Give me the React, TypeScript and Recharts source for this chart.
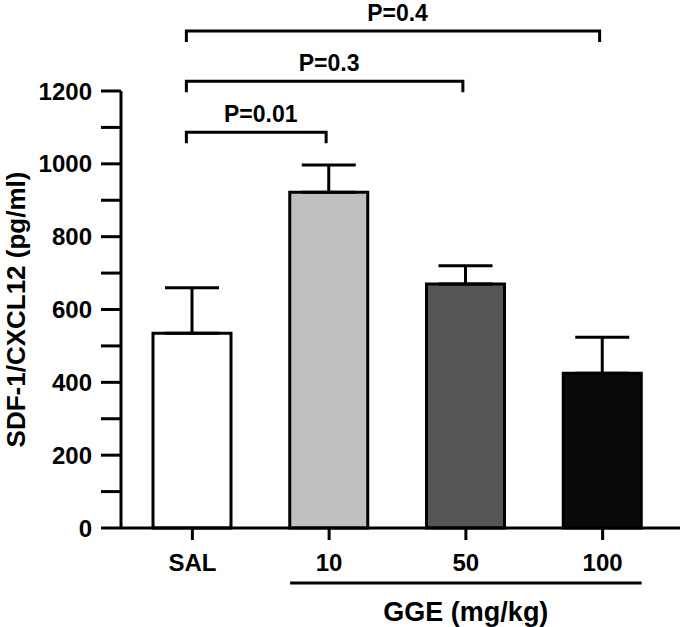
import React from 'react';
import { Bar, BarChart, Cell, ErrorBar, Label, ReferenceLine, XAxis, YAxis } from 'recharts';

const categories = ['SAL', '10', '50', '100'];
const means = [535, 922, 670, 425];
const sems = [125, 75, 50, 99];
const fills = ['#ffffff', '#c0c0c0', '#555555', '#0a0a0a'];
const yTicks = [0, 100, 200, 300, 400, 500, 600, 700, 800, 900, 1000, 1100, 1200];

// significance brackets, level is in y units (pg/ml)
const brackets = [
  { from: 'SAL', to: '10', level: 1087, label: 'P=0.01' },
  { from: 'SAL', to: '50', level: 1227, label: 'P=0.3' },
  { from: 'SAL', to: '100', level: 1365, label: 'P=0.4' },
];
const doseGroup = { from: '10', to: '100', level: -151, label: 'GGE (mg/kg)' };

const FONT = '"Liberation Sans", Arial, Helvetica, sans-serif';
const BAR_SIZE = 78;
const INK = '#000';

const data = categories.map((name, i) => ({ name, value: means[i], err: [0, sems[i]] }));

const tickStyle = { fill: INK, fontSize: 24, fontWeight: 700, fontFamily: FONT };

function bracketShape(props: any) {
  const { x1, y1, x2, y2 } = props;
  const drop = 11;
  return (
    <path
      d={`M${x1 - 6},${y1 + drop}V${y1}H${x2 - 3}V${y2 + drop}`}
      fill="none"
      stroke={INK}
      strokeWidth={3}
    />
  );
}

function underlineShape(props: any) {
  const { x1, y1, x2 } = props;
  return (
    <line
      x1={x1 - BAR_SIZE / 2}
      y1={y1}
      x2={x2 + BAR_SIZE / 2}
      y2={y1}
      stroke={INK}
      strokeWidth={3}
    />
  );
}

function YTitle(props: any) {
  const { viewBox } = props;
  const cy = viewBox.y + viewBox.height / 2;
  const x = 25;
  return (
    <text
      x={x}
      y={cy}
      transform={`rotate(-90, ${x}, ${cy})`}
      textAnchor="middle"
      fill={INK}
      fontSize={26}
      fontWeight={700}
      fontFamily={FONT}
    >
      SDF-1/CXCL12 (pg/ml)
    </text>
  );
}

export default function App() {
  return (
    <div style={{ width: 680, height: 627, background: '#fff' }}>
      <style>{`body{margin:0}`}</style>
      <BarChart
        width={680}
        height={627}
        data={data}
        margin={{ top: 91, right: 0, bottom: 0, left: 0 }}
      >
        <XAxis
          dataKey="name"
          height={99}
          padding={{ left: 3, right: 9 }}
          tickSize={12}
          tickMargin={14}
          axisLine={{ stroke: INK, strokeWidth: 3 }}
          tickLine={{ stroke: INK, strokeWidth: 3 }}
          tick={tickStyle}
          interval={0}
        />
        <YAxis
          width={121}
          domain={[0, 1200]}
          ticks={yTicks}
          interval={0}
          tickSize={20}
          tickMargin={9}
          axisLine={{ stroke: INK, strokeWidth: 3 }}
          tickLine={{ stroke: INK, strokeWidth: 3 }}
          tick={tickStyle}
          tickFormatter={(v: number) => (v % 200 === 0 ? String(v) : '')}
        >
          <Label content={<YTitle />} />
        </YAxis>
        <Bar
          dataKey="value"
          barSize={BAR_SIZE}
          stroke={INK}
          strokeWidth={3}
          isAnimationActive={false}
        >
          {data.map((d, i) => (
            <Cell key={d.name} fill={fills[i]} />
          ))}
          <ErrorBar dataKey="err" width={27} stroke={INK} strokeWidth={3} direction="y" />
        </Bar>
        {brackets.map(b => (
          <ReferenceLine
            key={b.label}
            segment={[
              { x: b.from, y: b.level },
              { x: b.to, y: b.level },
            ]}
            ifOverflow="visible"
            shape={bracketShape}
            label={{
              value: b.label,
              position: 'top',
              offset: 10,
              fill: INK,
              fontSize: 23,
              fontWeight: 700,
              fontFamily: FONT,
            }}
          />
        ))}
        <ReferenceLine
          segment={[
            { x: doseGroup.from, y: doseGroup.level },
            { x: doseGroup.to, y: doseGroup.level },
          ]}
          ifOverflow="visible"
          shape={underlineShape}
          label={{
            value: doseGroup.label,
            position: 'bottom',
            offset: 19,
            fill: INK,
            fontSize: 27,
            fontWeight: 700,
            fontFamily: FONT,
          }}
        />
      </BarChart>
    </div>
  );
}
